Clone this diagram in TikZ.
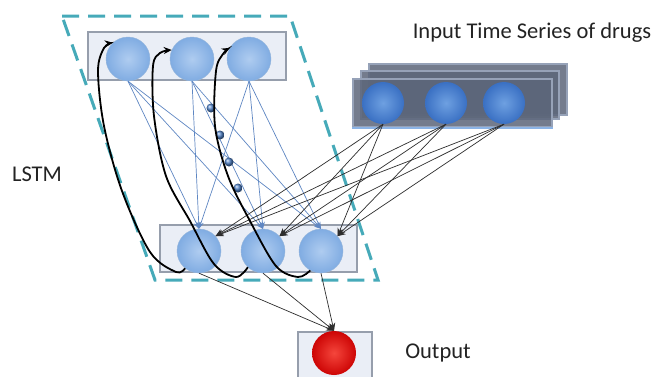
\documentclass[tikz,border=0pt]{standalone}
\usepackage{fontspec}
\setmainfont{Carlito}
\usetikzlibrary{arrows.meta}
\definecolor{framec}{RGB}{70,170,185}
\definecolor{boxfill}{RGB}{234,238,246}
\definecolor{boxedge}{RGB}{150,158,172}
\definecolor{cellin}{RGB}{175,204,240}
\definecolor{cellout}{RGB}{128,172,226}
\definecolor{celledge}{RGB}{150,182,220}
\definecolor{inin}{RGB}{110,160,225}
\definecolor{inout}{RGB}{58,112,195}
\definecolor{inboxfill}{RGB}{92,102,122}
\definecolor{inboxedge}{RGB}{150,162,184}
\definecolor{instrip}{RGB}{140,180,230}
\definecolor{bluelink}{RGB}{95,135,195}
\definecolor{dotc}{RGB}{80,130,200}
\definecolor{darklink}{RGB}{45,45,45}
\definecolor{txt}{RGB}{35,35,35}
\definecolor{redin}{RGB}{245,70,60}
\definecolor{redout}{RGB}{205,5,5}
\begin{document}
\begin{tikzpicture}[x=1pt,y=1pt,
  lstmbox/.style={draw=boxedge, fill=boxfill, line width=1.2pt, inner sep=0pt},
  lstmcell/.style={circle, inner sep=0pt, minimum size=44pt, inner color=cellin, outer color=cellout, draw=celledge, line width=0.4pt},
  incell/.style={circle, inner sep=0pt, minimum size=42pt, inner color=inin, outer color=inout},
  outcell/.style={circle, inner sep=0pt, minimum size=44pt, inner color=redin, outer color=redout},
  inbox/.style={draw=inboxedge, fill=inboxfill, line width=2pt, inner sep=0pt, fill opacity=0.85},
  lstmframe/.style={draw=framec, line width=3pt, dash pattern=on 17pt off 9pt},
  toplink/.style={draw=bluelink, line width=0.7pt, -{Stealth[length=7pt,width=5pt]}},
  inlink/.style={draw=darklink, line width=0.7pt, -{Stealth[length=8pt,width=6pt]}},
  recur/.style={draw=black, line width=1.8pt, -{Stealth[length=8pt,width=7pt]}},
  caption/.style={font=\fontsize{22.5}{27}\selectfont, text=txt, inner sep=0pt},
  ellipsisdot/.style={circle, inner sep=0pt, minimum size=9pt, ball color=dotc}
]
\clip (0,0) rectangle (662,376);
\fill[white] (0,0) rectangle (662,376);

% LSTM frame
\draw[lstmframe] (62,360) -- (290,360) -- (378,96) -- (155,96) -- cycle;

% boxes
\node[lstmbox, minimum width=198pt, minimum height=48pt] (topbox) at (187,320) {};
\node[lstmbox, minimum width=197pt, minimum height=47pt] (botbox) at (258.5,127.5) {};
\node[lstmbox, minimum width=74pt, minimum height=49pt] (outbox) at (335,19.5) {};
\node[inbox, minimum width=198pt, minimum height=51pt] (ib3) at (468,286.5) {};
\node[inbox, minimum width=198pt, minimum height=48pt] (ib2) at (460,281) {};
\node[inbox, minimum width=199pt, minimum height=48pt] (ib1) at (452.5,273) {};
\draw[instrip, line width=2.5pt] (ib1.south west) -- (ib1.south east);

% cells
\node[lstmcell] (t1) at (128,317) {};
\node[lstmcell] (t2) at (192,317) {};
\node[lstmcell] (t3) at (249,317) {};
\node[lstmcell] (b1) at (199,125) {};
\node[lstmcell] (b2) at (263,125) {};
\node[lstmcell] (b3) at (321,125) {};
\node[incell] (i1) at (383,273) {};
\node[incell] (i2) at (446,273) {};
\node[incell] (i3) at (504,273) {};
\node[outcell] (out) at (334,23) {};

% links from top layer
\foreach \a in {t1,t2,t3}
  \foreach \b in {b1,b2,b3}
    \draw[toplink] (\a.south) -- (\b.north);

% ellipsis dots
\node[ellipsisdot] (d1) at (211,268) {};
\node[ellipsisdot] (d2) at (220,241) {};
\node[ellipsisdot] (d3) at (229,214) {};
\node[ellipsisdot] (d4) at (238,188) {};

% links from input
\foreach \a in {i1,i2,i3}
  \foreach \b in {b1,b2,b3}
    \draw[inlink] (\a.south) -- (\b.42);

% links to output
\foreach \b in {b1,b2,b3}
  \draw[inlink] (\b.south) -- (out.north);

% recurrent arrows
\draw[recur] plot[smooth, tension=0.55] coordinates {(b1.-129) (176,104) (150,124) (122,185) (104,250) (98,305) (104,328) (t1.133)};
\draw[recur] plot[smooth, tension=0.55] coordinates {(b2.-133) (236,99) (214,112) (190,155) (166,200) (154,260) (153,310) (160,323) (t2.156)};
\draw[recur] plot[smooth, tension=0.55] coordinates {(b3.-119) (298,99) (276,110) (250,155) (228,200) (215,250) (216,305) (223,322) (t3.150)};

% texts
\node[caption] (intxt) at (532,343) {Input Time Series of drugs};
\node[caption] (lstmtxt) at (37,202) {LSTM};
\node[caption] (outtxt) at (438,23) {Output};
\end{tikzpicture}
\end{document}
